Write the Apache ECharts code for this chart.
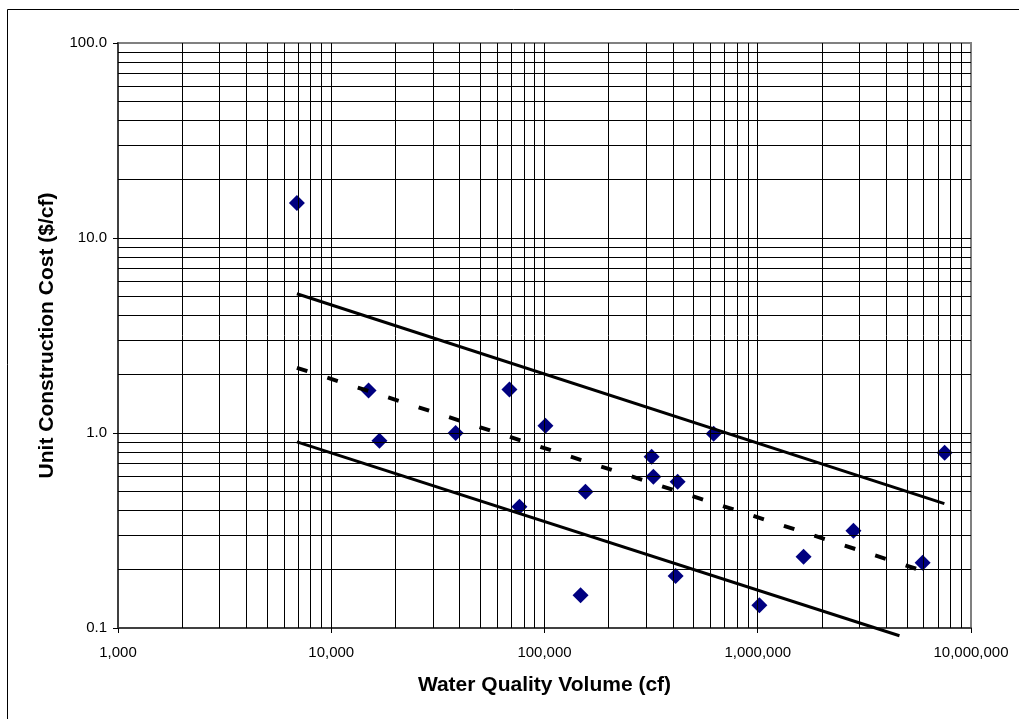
<!DOCTYPE html>
<html><head><meta charset="utf-8">
<script src="https://cdn.jsdelivr.net/npm/echarts@6/dist/echarts.min.js"></script>
<style>html,body{margin:0;padding:0;background:#fff}#c{width:1019px;height:719px}</style>
</head><body><div id="c"></div>
<script>
// Scatter data: water quality volume (cf) vs unit construction cost ($/cf)
const volume   = [6900, 14960, 16830, 38300, 68500, 76300, 101000, 147600, 155600, 318000, 324000, 412000, 421000, 621000, 1018000, 1640000, 2810000, 5930000, 7520000];
const unitCost = [15.1, 1.65, 0.913, 1.0, 1.67, 0.419, 1.09, 0.147, 0.50, 0.756, 0.597, 0.185, 0.562, 0.99, 0.131, 0.232, 0.315, 0.216, 0.792];

// Regression line and bounds (endpoints)
const upperX = [6900, 7500000];
const upperY = [5.18, 0.434];
const trendX = [6900, 6050000];
const trendY = [2.16, 0.195];
const lowerX = [6900, 4620000];
const lowerY = [0.90, 0.0912];

// Axis decades (tick labels) and minor multipliers
const xTicks = [1000, 10000, 100000, 1000000, 10000000];
const yTicks = [0.1, 1, 10, 100];
const minorMult = [1, 2, 3, 4, 5, 6, 7, 8, 9];

const xGrid = [];
xTicks.slice(0, -1).forEach(d => minorMult.forEach(m => { if (!(d === xTicks[0] && m === 1)) xGrid.push(d * m); }));
const yGrid = [];
yTicks.slice(0, -1).forEach(d => minorMult.forEach(m => { if (!(d === yTicks[0] && m === 1)) yGrid.push(+(d * m).toPrecision(6)); }));

const pair = (xs, ys) => xs.map((x, i) => [x, ys[i]]);
const FONT = "'Liberation Sans', Arial, sans-serif";

const chart = echarts.init(document.getElementById('c'), null, { renderer: 'canvas' });
chart.setOption({
  backgroundColor: '#fff',
  animation: false,
  graphic: [{
    type: 'rect', shape: { x: 7.5, y: 9.5, width: 1030, height: 730 },
    style: { fill: 'none', stroke: '#000', lineWidth: 1 }, silent: true, z: 0
  }],
  grid: {
    left: 118, right: 48, top: 43, bottom: 91,
    show: true, borderColor: '#808080', borderWidth: 2, backgroundColor: 'transparent'
  },
  xAxis: {
    type: 'log', logBase: 10, min: xTicks[0], max: xTicks[xTicks.length - 1], splitNumber: 4,
    axisLine: { show: true, lineStyle: { color: '#404040', width: 2 } },
    axisTick: { show: true, length: 5, lineStyle: { color: '#000', width: 1 } },
    axisLabel: {
      fontSize: 15, color: '#000', fontFamily: FONT, margin: 17,
      formatter: v => Math.round(v).toString().replace(/\B(?=(\d{3})+(?!\d))/g, ',')
    },
    splitLine: { show: false },
    name: 'Water Quality Volume (cf)', nameLocation: 'middle', nameGap: 47,
    nameTextStyle: { fontSize: 21, fontWeight: 'bold', color: '#000', fontFamily: FONT }
  },
  yAxis: {
    type: 'log', logBase: 10, min: yTicks[0], max: yTicks[yTicks.length - 1], splitNumber: 3,
    axisLine: { show: true, lineStyle: { color: '#404040', width: 2 } },
    axisTick: { show: true, length: 5, lineStyle: { color: '#000', width: 1 } },
    axisLabel: {
      fontSize: 15, color: '#000', fontFamily: FONT, margin: 11,
      formatter: v => Number(v).toFixed(1)
    },
    splitLine: { show: false },
    name: 'Unit Construction Cost ($/cf)', nameLocation: 'middle', nameGap: 60,
    nameTextStyle: { fontSize: 21, fontWeight: 'bold', color: '#000', fontFamily: FONT }
  },
  series: [
    {
      type: 'line', data: [], z: 1, silent: true,
      markLine: {
        silent: true, symbol: ['none', 'none'], label: { show: false }, animation: false,
        lineStyle: { color: '#000', width: 1, type: 'solid', opacity: 1 },
        emphasis: { disabled: true },
        data: xGrid.map(v => ({ xAxis: v })).concat(yGrid.map(v => ({ yAxis: v })))
      }
    },
    {
      type: 'scatter', data: pair(volume, unitCost), z: 3,
      symbol: 'diamond', symbolSize: 16,
      itemStyle: { color: '#000080', opacity: 1 }
    },
    {
      type: 'line', data: pair(upperX, upperY), z: 4, clip: false,
      showSymbol: false, symbol: 'none',
      lineStyle: { color: '#000', width: 3 }
    },
    {
      type: 'line', data: pair(trendX, trendY), z: 4, clip: false,
      showSymbol: false, symbol: 'none',
      lineStyle: { color: '#000', width: 4, type: [11, 21] }
    },
    {
      type: 'line', data: pair(lowerX, lowerY), z: 4, clip: false,
      showSymbol: false, symbol: 'none',
      lineStyle: { color: '#000', width: 3 }
    }
  ]
});
</script>
</body></html>
